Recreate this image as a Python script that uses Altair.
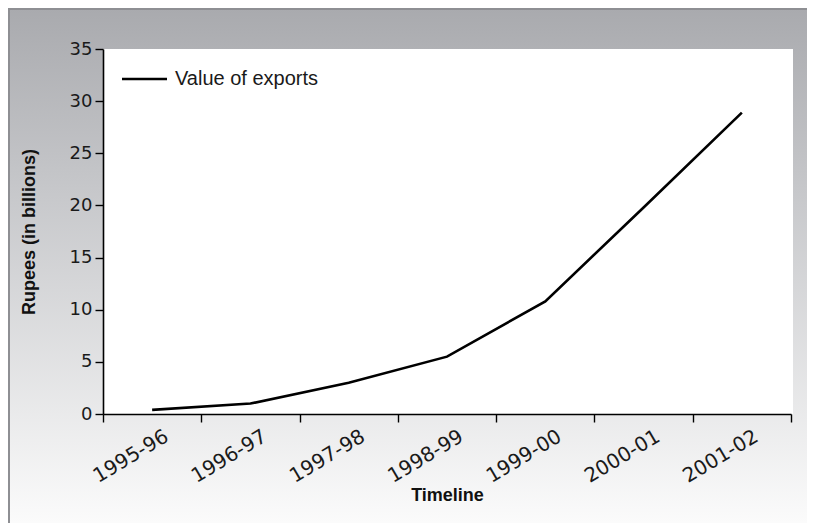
import altair as alt
import pandas as pd

years = ["1995-96", "1996-97", "1997-98", "1998-99", "1999-00", "2000-01", "2001-02"]
exports = [0.4, 1.0, 3.0, 5.5, 10.8, 19.8, 28.9]
y_ticks = [0, 5, 10, 15, 20, 25, 30, 35]

df = pd.DataFrame({"year": years, "value": exports})

W, H = 688, 365
PL, PT, PR, PB = 95, 41, 16, 109
LABEL_FONT = "DejaVu Sans, Liberation Sans, sans-serif"
LEGEND_FONT = "Liberation Sans, Arial, sans-serif"
TITLE_FONT = "Liberation Sans Narrow, Liberation Sans, Arial, sans-serif"

one = alt.Data(values=[{"k": 1}])

bg = alt.Chart(one).mark_rect(
    color=alt.Gradient(
        gradient="linear",
        stops=[alt.GradientStop(color="#a9aaae", offset=0),
               alt.GradientStop(color="#c6c7ca", offset=0.35),
               alt.GradientStop(color="#fbfbfb", offset=1)],
        x1=0, x2=0, y1=0, y2=1,
    ),
    clip=False,
).encode(
    x=alt.value(-PL), x2=alt.value(W + PR),
    y=alt.value(-PT), y2=alt.value(H + PB),
)

frame_top = alt.Chart(one).mark_rule(color="#8e8f93", strokeWidth=2, clip=False).encode(
    x=alt.value(-PL), x2=alt.value(W + PR), y=alt.value(-PT + 1)
)
frame_left = alt.Chart(one).mark_rule(color="#8e8f93", strokeWidth=2, clip=False).encode(
    x=alt.value(-PL + 1), y=alt.value(-PT), y2=alt.value(H + PB)
)

white = alt.Chart(one).mark_rect(color="white", clip=False).encode(
    x=alt.value(0), x2=alt.value(W + 2), y=alt.value(0), y2=alt.value(H)
)

axis_common = dict(
    zindex=2, grid=False,
    domainColor="black", domainWidth=1.6,
    tickColor="black", tickWidth=1.4, tickSize=8,
    labelFont=LABEL_FONT, labelColor="#1a1a1a",
    titleFont=TITLE_FONT, titleFontSize=18, titleFontWeight="bold", titleColor="#111111",
)

line = alt.Chart(df).mark_line(color="black", strokeWidth=2.6).encode(
    x=alt.X("year:N", sort=years, bandPosition=0.5,
            scale=alt.Scale(type="band", paddingInner=0, paddingOuter=0),
            axis=alt.Axis(title="Timeline", tickBand="extent", labelAngle=-31,
                          labelAlign="right", labelBaseline="top",
                          labelFontSize=20,
                          labelOffset=9, labelPadding=4,
                          titleY=81, titleBaseline="middle", **axis_common)),
    y=alt.Y("value:Q", scale=alt.Scale(domain=[0, 35], nice=False),
            axis=alt.Axis(title="Rupees (in billions)", values=y_ticks,
                          labelFontSize=18,
                          labelPadding=3, titleX=-74, titleBaseline="middle",
                          titleAngle=-90, titleAlign="center", **axis_common)),
)

legend_rule = alt.Chart(one).mark_rule(color="black", strokeWidth=2.6).encode(
    x=alt.value(19), x2=alt.value(64), y=alt.value(30)
)
legend_text = alt.Chart(one).mark_text(
    text="Value of exports", align="left", baseline="middle",
    font=LEGEND_FONT, fontSize=20, color="#1a1a1a",
).encode(x=alt.value(72), y=alt.value(30))

chart = alt.layer(bg, frame_top, frame_left, white, line, legend_rule, legend_text).properties(
    width=W, height=H,
    autosize=alt.AutoSizeParams(type="none"),
    padding={"left": PL, "top": PT, "right": PR, "bottom": PB},
).configure_view(stroke=None)

chart.save("out.html", embed_options={"renderer": "svg", "actions": False})
